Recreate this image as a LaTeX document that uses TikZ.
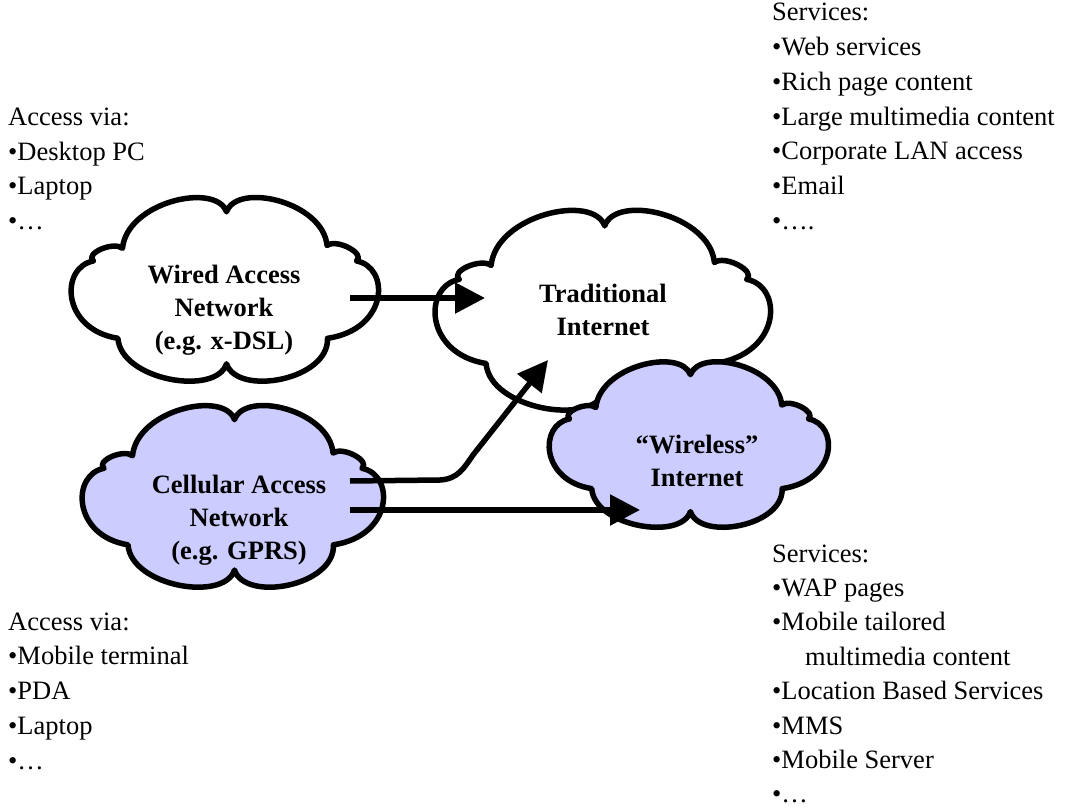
\documentclass[tikz,border=0pt]{standalone}
\usepackage{fontspec}
\setmainfont{Liberation Serif}
\usetikzlibrary{arrows.meta}
\definecolor{cloudblue}{HTML}{CCCCFF}

\tikzset{
  x=1pt, y=-1pt,
  cloud/.pic={
    \path[pic actions]
      (0.667,-0.50) .. controls (0.64,-0.98) and (0.08,-1.2) .. (0.01,-0.87)
      .. controls (-0.06,-1.2) and (-0.64,-0.98) .. (-0.67,-0.47)
      .. controls (-0.73,-0.55) and (-0.92,-0.41) .. (-0.86,-0.33)
      .. controls (-1.08,-0.26) and (-1.07,0.42) .. (-0.70,0.52)
      .. controls (-0.68,0.98) and (-0.06,1.16) .. (0.01,0.80)
      .. controls (0.08,1.16) and (0.68,0.98) .. (0.67,0.52)
      .. controls (1.07,0.42) and (1.08,-0.26) .. (0.86,-0.33)
      .. controls (0.92,-0.41) and (0.73,-0.58) .. (0.667,-0.50) -- cycle;
  },
  cloudline/.style={draw=black, line width=5.5pt, line join=round},
  label/.style={font=\fontsize{26.5}{33}\selectfont\bfseries, align=center, inner sep=0pt},
  listline/.style={font=\fontsize{26.5}{34.6}\selectfont, anchor=base west, inner sep=0pt},
  link/.style={line width=5.5pt, -{Triangle[length=30pt,width=30pt]}},
}

\begin{document}
\begin{tikzpicture}
\useasboundingbox (0,0) rectangle (1065,810);

% the four networks
\pic[cloudline, fill=white, xscale=153, yscale=91] (wiredcloud) at (225,291) {cloud};
\pic[cloudline, fill=cloudblue, xscale=150, yscale=90] (cellcloud) at (233,498) {cloud};
\pic[cloudline, fill=white, xscale=167, yscale=99] (tradcloud) at (603,312) {cloud};
\pic[cloudline, fill=cloudblue, xscale=139, yscale=82] (wlcloud) at (689,446) {cloud};

\node[label] (wired) at (224,310) {Wired Access\\Network\\(e.g. x-DSL)};
\node[label] (trad) at (603,310) {Traditional\\Internet};
\node[label] (wireless) at (697,461) {“Wireless”\\Internet};
\node[label] (cellular) at (239,520) {Cellular Access\\Network\\(e.g. GPRS)};

% connections between the networks
\coordinate (wiredout) at (350,298);
\coordinate (tradin) at (485,298);
\coordinate (cellup) at (350,481);
\coordinate (tradin2) at (548,360);
\coordinate (celldown) at (350,510);
\coordinate (wlin) at (640,510);

\draw[link] (wiredout) -- (tradin);
\draw[link] (cellup) -- (440,480) .. controls (458,479) and (464,468) .. (473,455) -- (tradin2);
\draw[link] (celldown) -- (wlin);

% access and service lists
\foreach \t [count=\i] in {Access via:, •Desktop PC, •Laptop, •…}
  \node[listline] (wiredacc\i) at (8,{126+(\i-1)*34.5}) {\t};
\foreach \t [count=\i] in {Access via:, •Mobile terminal, •PDA, •Laptop, •…}
  \node[listline] (cellacc\i) at (8,{630+(\i-1)*34.8}) {\t};
\foreach \t [count=\i] in {Services:, •Web services, •Rich page content, •Large multimedia content, •Corporate LAN access, •Email, •….}
  \node[listline] (tradsrv\i) at (772,{21+(\i-1)*34.7}) {\t};
\foreach \t [count=\i] in {Services:, •WAP pages, •Mobile tailored, \hspace*{33pt}multimedia content, •Location Based Services, •MMS, •Mobile Server, •…}
  \node[listline] (wlsrv\i) at (772,{562+(\i-1)*34.4}) {\t};
\end{tikzpicture}
\end{document}
